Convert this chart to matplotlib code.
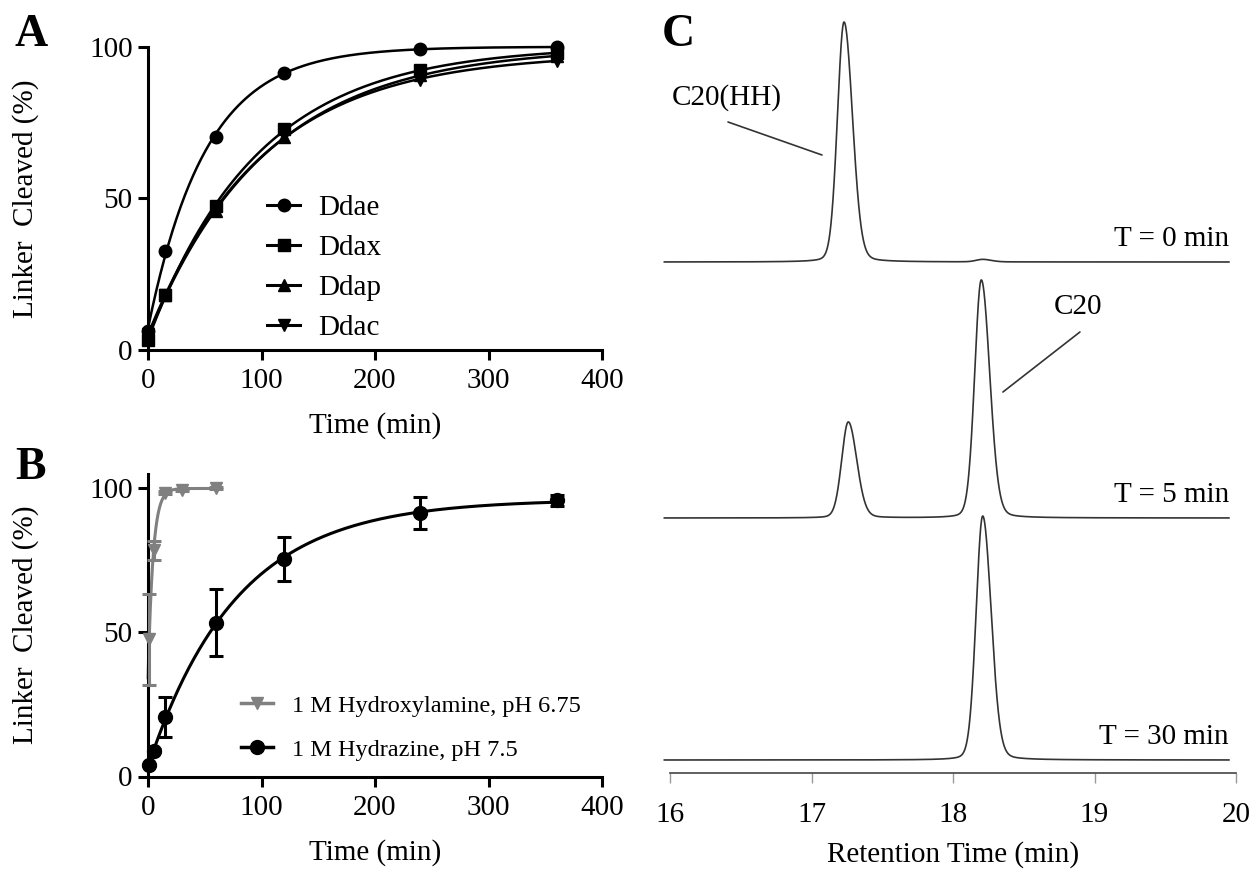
import numpy as np
import matplotlib.pyplot as plt

plt.rcParams['font.family'] = ['Liberation Serif', 'DejaVu Serif']

# Panel A: % linker cleaved vs time for four linkers
time_a = [0, 15, 60, 120, 240, 360]
ddae = [6, 32.6, 70.3, 91.4, 99.5, 100]
ddax = [3, 18, 47.4, 72.9, 92.3, 98]
ddap = [4, 18, 45.8, 70.3, 90.6, 97]
ddac = [5, 18, 46, 71, 89, 95.5]
series_a = [('Ddae', ddae, 'o'), ('Ddax', ddax, 's'), ('Ddap', ddap, '^'), ('Ddac', ddac, 'v')]

# Panel B: hydroxylamine vs hydrazine (mean and error)
time_hx = [1, 5, 15, 30, 60]
hydroxylamine = [47.6, 78.5, 98.4, 99.3, 100]
hydroxylamine_err = [15.7, 3.3, 0.5, 0.3, 0.3]
time_hz = [1, 5, 15, 60, 120, 240, 360]
hydrazine = [4, 9, 20.6, 53.4, 75.5, 91.4, 95.8]
hydrazine_err = [0.5, 0.5, 7, 11.7, 7.6, 5.5, 2]

# Panel C: HPLC peaks per time point (retention time, height in arbitrary units)
chrom_labels = ['T = 0 min', 'T = 5 min', 'T = 30 min']
peak_rt = [[17.23, 18.21], [17.26, 18.20], [18.21]]
peak_height = [[240, 2.5], [96, 238], [244]]


def fit_assoc(t, y):
    # one-phase association, best k by grid, y0 and plateau by least squares
    t = np.asarray(t, float)
    y = np.asarray(y, float)
    best = None
    for k in np.logspace(-3.5, 0.5, 3000):
        e = np.exp(-k * t)
        m = np.column_stack([e, 1 - e])
        coef = np.linalg.lstsq(m, y, rcond=None)[0]
        sse = np.sum((m @ coef - y) ** 2)
        if best is None or sse < best[0]:
            best = (sse, k, coef)
    k, (y0, plateau) = best[1], best[2]
    return lambda tt: y0 * np.exp(-k * tt) + plateau * (1 - np.exp(-k * tt))


def peak(x, rt, h, wl=0.047, wr=0.06, eta=0.12):
    w = np.where(x < rt, wl, wr)
    g = np.exp(-0.5 * ((x - rt) / w) ** 2)
    lor = 1 / (1 + ((x - rt) / (1.18 * w)) ** 2)
    return h * ((1 - eta) * g + eta * lor)


W, H = 1250, 876
fig = plt.figure(figsize=(12.5, 8.76), dpi=100)


def box(l, t, r, b):
    return [l / W, 1 - b / H, (r - l) / W, (b - t) / H]


FS = 21
LW_AX = 2.2


def style_kinetic(ax, ytop):
    ax.set_xlim(0, 400)
    ax.set_ylim(0, ytop)
    ax.set_xticks([0, 100, 200, 300, 400])
    ax.set_yticks([0, 50, 100])
    for s in ['top', 'right']:
        ax.spines[s].set_visible(False)
    for s in ['left', 'bottom']:
        ax.spines[s].set_linewidth(LW_AX)
    ax.tick_params(direction='out', length=7, width=LW_AX, labelsize=FS, pad=4)
    ax.tick_params(axis='x', pad=6)
    ax.set_xlabel('Time (min)', fontsize=FS, labelpad=13)
    ax.set_ylabel('Linker  Cleaved (%)', fontsize=FS)
    ax.yaxis.set_label_coords(-0.24, 0.5)


# ---- Panel A
axA = fig.add_axes(box(148, 47, 602, 349.5))
tt = np.linspace(0, 360, 400)
for name, vals, mk in series_a:
    f = fit_assoc(time_a, vals)
    axA.plot(tt, f(tt), color='black', lw=1.8, clip_on=False)
    axA.plot(time_a, vals, linestyle='none', marker=mk, color='black', ms=9, clip_on=False, zorder=5)
    axA.plot([], [], color='black', lw=2.2, marker=mk, ms=9, label=name)
style_kinetic(axA, 100)
axA.legend(loc='upper left', bbox_to_anchor=(0.262, 0.513), frameon=False, fontsize=FS,
           borderpad=0, borderaxespad=0, handlelength=1.15, handletextpad=0.6,
           labelspacing=0.47, numpoints=1)

# ---- Panel B
axB = fig.add_axes(box(148, 473.9, 602, 776.5))
grey = '#808080'
f_hx = fit_assoc(time_hx, hydroxylamine)
t_hx = np.linspace(0, 60, 300)
axB.plot(t_hx, f_hx(t_hx), color=grey, lw=2.2, clip_on=False)
axB.errorbar(time_hx, hydroxylamine, yerr=hydroxylamine_err, fmt='v', color=grey, ms=9,
             elinewidth=2.2, capsize=5, capthick=2.2, clip_on=False, zorder=4)
f_hz = fit_assoc(time_hz, hydrazine)
axB.plot(tt, f_hz(tt), color='black', lw=2.2, clip_on=False)
axB.errorbar(time_hz, hydrazine, yerr=hydrazine_err, fmt='o', color='black', ms=10,
             elinewidth=2.2, capsize=5, capthick=2.2, clip_on=False, zorder=5)
axB.plot([], [], color=grey, lw=2.5, marker='v', ms=9, label='1 M Hydroxylamine, pH 6.75')
axB.plot([], [], color='black', lw=2.5, marker='o', ms=10, label='1 M Hydrazine, pH 7.5')
style_kinetic(axB, 105)
axB.legend(loc='upper left', bbox_to_anchor=(0.205, 0.27), frameon=False, fontsize=17.5,
           borderpad=0, borderaxespad=0, handlelength=1.3, handletextpad=0.8,
           labelspacing=0.9, numpoints=1)

# ---- Panel C
axC = fig.add_axes(box(670, 0, 1236, 773))
axC.set_xlim(16, 20)
axC.set_ylim(0, 773)
offsets = [511, 255, 13]
rt = np.linspace(15.96, 19.95, 3000)
for lab, rts, hs, off in zip(chrom_labels, peak_rt, peak_height, offsets):
    y = np.full_like(rt, float(off))
    for r, h in zip(rts, hs):
        y += peak(rt, r, h)
    axC.plot(rt, y, color='#333333', lw=1.2, clip_on=False)
    axC.text(19.95, off + 10, lab, ha='right', va='bottom', fontsize=FS)

# peak labels with leader lines
line_kw = dict(arrowstyle='-', color='#333333', lw=1.2, shrinkA=0, shrinkB=0)
axC.text(16.40, 675, 'C20(HH)', fontsize=FS, ha='center', va='center')
axC.annotate('', xy=(17.074, 618), xytext=(16.41, 651), arrowprops=line_kw)
axC.text(18.883, 466, 'C20', fontsize=FS, ha='center', va='center')
axC.annotate('', xy=(18.353, 381), xytext=(18.897, 441), arrowprops=line_kw)

for s in ['top', 'right', 'left']:
    axC.spines[s].set_visible(False)
axC.spines['bottom'].set_linewidth(1.2)
axC.spines['bottom'].set_color('#444444')
axC.set_yticks([])
axC.set_xticks([16, 17, 18, 19, 20])
axC.tick_params(axis='x', direction='out', length=7, width=1, color='#999999', labelsize=FS, pad=14)
axC.set_xlabel('Retention Time (min)', fontsize=FS, labelpad=9)

# panel letters
fig.text(31 / W, 1 - 35 / H, 'A', fontsize=33, fontweight='bold', ha='center', va='center')
fig.text(31 / W, 1 - 468 / H, 'B', fontsize=33, fontweight='bold', ha='center', va='center')
fig.text(678 / W, 1 - 35 / H, 'C', fontsize=33, fontweight='bold', ha='center', va='center')

fig.savefig('out.png', dpi=100)
